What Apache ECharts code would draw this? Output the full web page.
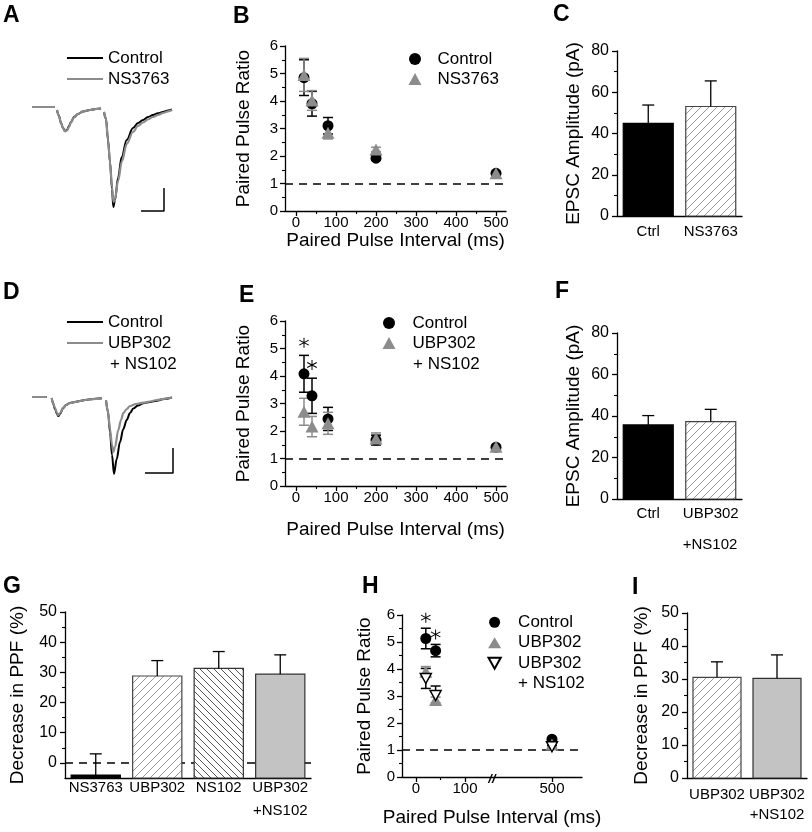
<!DOCTYPE html>
<html>
<head>
<meta charset="utf-8">
<script src="https://cdn.jsdelivr.net/npm/echarts@6/dist/echarts.min.js"></script>
<style>
  html, body { margin: 0; padding: 0; background: #fff; }
  #main { width: 812px; height: 832px; }
</style>
</head>
<body>
<div id="main"></div>
<script>
// ---------- data ----------
// A / D : example EPSC traces [time, current] (baseline = 0, '-' = blanked stimulus artifact)
var traceA_ctrl = [[2,0],[25,0],[26,'-'],[27,-3],[29,-9],[31,-16],[33,-21],[35,-24],[37,-23],[39,-19],[41,-15],[44,-10],[48,-7],[53,-4.5],[60,-3],[66,-2],[71,-1.5],[72.5,'-'],
  [74,-5],[76,-12],[78,-33],[80,-55],[82,-82],[83.3,-100],[85,-93],[88,-71],[91.7,-50],[96.7,-33],[103,-21],[108,-16],[113,-13],[118,-10],[123,-8],[128,-6.3],[133,-5],[138,-3.5],[142,-2.5]];
var traceA_drug = [[2,0],[25,0],[26,'-'],[27,-3],[29,-9],[31,-16],[33,-21],[35,-24.5],[37,-23.5],[39,-20],[41,-15.5],[44,-10.5],[48,-7],[53,-4.5],[60,-3],[66,-2],[71,-1.5],[72.5,'-'],
  [74,-5],[76,-12],[78,-33],[80,-55],[82,-80],[83.5,-95],[85,-92],[88,-74],[92,-54],[96.7,-37],[103,-25],[108,-19],[113,-15.5],[118,-12.5],[123,-10],[128,-8],[133,-6],[138,-4.3],[142,-3]];
var traceD_ctrl = [[2,0],[16.7,0],[18,'-'],[21.7,-1],[23,-6],[25,-12],[27,-17],[28.3,-19],[30,-17],[33.3,-11],[36,-8],[40,-6],[45,-5],[50,-4],[55,-3],[60,-2.3],[66,-1.8],[71.7,-1.3],[73,'-'],
  [76,-3],[78,-15],[80,-35],[82,-58],[84,-77],[86.7,-62],[90,-45],[93.3,-32],[96.7,-23],[100,-16],[103.3,-11.5],[108,-8.5],[113.3,-6.3],[120,-5],[126.7,-3.7],[134,-2],[142,-0.5]];
var traceD_drug = [[2,0],[16.7,0],[18,'-'],[21.7,-1],[23,-6],[25,-11],[27,-16],[28.3,-18],[30,-16],[33.3,-10.5],[36,-8],[40,-6],[45,-5],[50,-4],[55,-3],[60,-2.3],[66,-1.8],[71.7,-1.3],[73,'-'],
  [76,-3],[78,-15],[80,-32],[82,-48],[83.3,-55],[85,-50],[88.3,-33],[91,-23],[93.3,-16],[96.7,-12],[100,-9],[106,-7],[113.3,-5.7],[120,-4.5],[126.7,-3],[134,-1.8],[142,-0.5]];
var scaleA = [[111,-104],[134,-104],[134,-81]];
var scaleD = [[115,-76],[143,-76],[143,-51]];

// B / E : paired pulse ratio vs interval
var intervals = [20, 40, 80, 200, 500];
var B_ctrl = [4.85, 3.9, 3.1, 1.92, 1.37];
var B_ctrlErr = [0.65, 0.45, 0.3, 0.08, 0.06];
var B_ns = [4.95, 4.02, 2.85, 2.24, 1.37];
var B_nsErr = [0.6, 0.36, 0.23, 0.08, 0.06];
var E_ctrl = [4.08, 3.28, 2.44, 1.67, 1.41];
var E_ctrlErr = [0.67, 0.64, 0.42, 0.18, 0.06];
var E_ubp = [2.7, 2.16, 2.28, 1.73, 1.43];
var E_ubpErr = [0.49, 0.37, 0.4, 0.2, 0.06];
var E_stars = [[20, 5.21], [40, 4.4]];
var pprTicks = [0, 100, 200, 300, 400, 500];
var pprMinor = [50, 150, 250, 350, 450];

// C / F : EPSC amplitude
var C_cats = ['Ctrl', 'NS3763'];
var C_vals = [44.9, 53.1];
var C_errs = [8.9, 12.4];
var F_cats = ['Ctrl', 'UBP302'];
var F_vals = [35.7, 37.3];
var F_errs = [4.5, 5.9];

// G : decrease in PPF
var G_cats = ['NS3763', 'UBP302', 'NS102', 'UBP302\n+NS102'];
var G_vals = [-4, 28.8, 31.3, 29.4];
var G_errs = [7, 5.1, 5.6, 6.4];
var G_ticks = [0, 10, 20, 30, 40, 50];
var G_minor = [5, 15, 25, 35, 45];

// H : broken interval axis
var H_x = [20, 40, 500];
var H_ctrl = [5.13, 4.68, 1.4];
var H_ctrlErr = [0.38, 0.23, 0.05];
var H_ubp = [3.9, 2.85, 1.2];
var H_ubpErr = [0.19, 0.11, 0.05];
var H_both = [3.65, 3.02, 1.12];
var H_bothErr = [0.37, 0.35, 0.05];
var H_stars = [[20, 5.9], [40, 5.28]];

// I : decrease in PPF
var I_cats = ['UBP302', 'UBP302\n+NS102'];
var I_vals = [30.5, 30.2];
var I_errs = [4.7, 7.1];

// ---------- helpers ----------
var FONT = "'Liberation Sans', Arial, Helvetica, sans-serif";
var GRAY = '#8c8c8c';
var hBreak = 155, hShift = 222.5;          // H axis: values above the break are pulled left
function hx(v) { return v > hBreak ? v - hShift : v; }

function hatch(color, gap, dir) {
  var cv = document.createElement('canvas');
  cv.width = gap; cv.height = gap;
  var g = cv.getContext('2d');
  g.fillStyle = '#fff'; g.fillRect(0, 0, gap, gap);
  g.strokeStyle = color; g.lineWidth = 1;
  g.beginPath();
  for (var k = -1; k <= 1; k++) {
    if (dir > 0) { g.moveTo(k * gap, gap); g.lineTo(k * gap + gap, 0); }
    else { g.moveTo(k * gap, 0); g.lineTo(k * gap + gap, gap); }
  }
  g.stroke();
  return { image: cv, repeat: 'repeat' };
}
var ST_BLACK = { fill: '#000', stroke: '#000' };
var ST_UP = { fill: hatch('#9a9a9a', 8, 1), stroke: '#444' };
var ST_DOWN = { fill: hatch('#555', 7, -1), stroke: '#333' };
var ST_GRAY = { fill: '#c3c3c3', stroke: '#333' };

var axLine = { show: true, onZero: false, lineStyle: { color: '#000', width: 1.3 } };
function valueAxis(grid, o) {
  var ax = {
    type: 'value', gridIndex: grid, min: o.min, max: o.max,
    axisLine: axLine,
    axisTick: { show: true, length: 5, lineStyle: { color: '#000', width: 1.3 } },
    minorTick: { show: !!o.minor, splitNumber: 2, length: 3, lineStyle: { color: '#000', width: 1.1 } },
    axisLabel: { fontSize: o.fs || 15, color: '#000', margin: o.margin || 7, fontFamily: FONT },
    splitLine: { show: false },
    name: o.name || '', nameLocation: 'middle', nameGap: o.nameGap || 30,
    nameTextStyle: { fontSize: 19, color: '#000', fontFamily: FONT }
  };
  if (o.interval) ax.interval = o.interval;
  if (o.ticks) { ax.axisTick.customValues = o.ticks; ax.axisLabel.customValues = o.ticks; }
  if (o.formatter) ax.axisLabel.formatter = o.formatter;
  return ax;
}
function minorAxis(grid, min, max, vals, pos) {
  return {
    type: 'value', gridIndex: grid, min: min, max: max, position: pos,
    axisLine: { show: false }, axisLabel: { show: false }, splitLine: { show: false },
    axisTick: { show: true, length: 3, customValues: vals, lineStyle: { color: '#000', width: 1.1 } }
  };
}
function hiddenAxis(grid, min, max) {
  return { type: 'value', gridIndex: grid, min: min, max: max, show: false };
}
function catAxis(grid, cats, margin, lh) {
  return {
    type: 'category', gridIndex: grid, data: cats, boundaryGap: true,
    axisLine: axLine,
    axisTick: { alignWithLabel: true, length: 5, lineStyle: { color: '#000', width: 1.3 } },
    axisLabel: { fontSize: 15, color: '#000', margin: margin, lineHeight: lh || 18, interval: 0, fontFamily: FONT },
    splitLine: { show: false }
  };
}

function barSeries(xi, yi, vals, errs, styles, base, extra) {
  var s = {
    type: 'custom', xAxisIndex: xi, yAxisIndex: yi, z: 3, silent: true,
    data: vals.map(function (v, i) { return [i, v, errs[i]]; }),
    renderItem: function (params, api) {
      var i = api.value(0), v = api.value(1), e = api.value(2);
      var top = api.coord([i, v]), bot = api.coord([i, base]), cap = api.coord([i, v + e]);
      var w = api.size([1, 0])[0] * 0.8;
      var st = styles[params.dataIndex];
      var ln = { stroke: '#000', lineWidth: 1.3 };
      return { type: 'group', children: [
        { type: 'rect', shape: { x: top[0] - w / 2, y: top[1], width: w, height: bot[1] - top[1] },
          style: { fill: st.fill, stroke: st.stroke, lineWidth: 1.2 } },
        { type: 'line', shape: { x1: top[0], y1: top[1], x2: cap[0], y2: cap[1] }, style: ln },
        { type: 'line', shape: { x1: cap[0] - 6, y1: cap[1], x2: cap[0] + 6, y2: cap[1] }, style: ln }
      ] };
    }
  };
  if (extra) for (var k in extra) s[k] = extra[k];
  return s;
}
function errSeries(xi, yi, xs, ys, es, color) {
  return {
    type: 'custom', xAxisIndex: xi, yAxisIndex: yi, silent: true,
    data: xs.map(function (x, i) { return [x, ys[i], es[i]]; }),
    renderItem: function (params, api) {
      var x = api.value(0), y = api.value(1), e = api.value(2);
      var a = api.coord([x, y + e]), b = api.coord([x, y - e]);
      var st = { stroke: color, lineWidth: 1.5 };
      return { type: 'group', children: [
        { type: 'line', shape: { x1: a[0], y1: a[1], x2: b[0], y2: b[1] }, style: st },
        { type: 'line', shape: { x1: a[0] - 5, y1: a[1], x2: a[0] + 5, y2: a[1] }, style: st },
        { type: 'line', shape: { x1: b[0] - 5, y1: b[1], x2: b[0] + 5, y2: b[1] }, style: st }
      ] };
    }
  };
}
var CIRCLE = 'circle', TRI = 'triangle', INV_TRI = 'path://M0,0L10,0L5,9Z';
var STAR = 'path://M9.1,0L10.9,0L10.9,20L9.1,20Z M1.79,4.22L19.11,14.22L18.21,15.78L0.89,5.78Z M0.89,14.22L18.21,4.22L19.11,5.78L1.79,15.78Z';
function dotSeries(name, xi, yi, xs, ys, sym, size, style, extra) {
  style.opacity = 1;
  var s = {
    name: name, type: 'scatter', xAxisIndex: xi, yAxisIndex: yi, symbol: sym, symbolSize: size,
    data: xs.map(function (x, i) { return [x, ys[i]]; }), itemStyle: style, silent: true
  };
  if (extra) for (var k in extra) s[k] = extra[k];
  return s;
}
function dashAt(v) {
  return { silent: true, symbol: ['none', 'none'], z: 1, label: { show: false },
    lineStyle: { type: [8, 6], color: '#000', width: 1.5 }, data: [{ yAxis: v }] };
}
function traceSeries(name, xi, yi, data, color, w) {
  return { name: name, type: 'line', xAxisIndex: xi, yAxisIndex: yi, data: data, showSymbol: false,
    smooth: 0.35, smoothMonotone: 'x', connectNulls: false, silent: true,
    color: color, itemStyle: { color: color }, lineStyle: { color: color, width: w } };
}
function txt(s, x, y, size, bold, align) {
  return { type: 'text', x: x, y: y, silent: true,
    style: { text: s, fontSize: size, fontWeight: bold ? 'bold' : 'normal', fontFamily: FONT,
      fill: '#000', align: align || 'left', verticalAlign: 'middle' } };
}
function strip(n) { return n.split('|')[1]; }
function legendAt(left, top, names, o) {
  return {
    data: names, left: left, top: top, orient: 'vertical', padding: 0, itemGap: 0,
    itemWidth: o.w, itemHeight: o.h, icon: o.icon, selectedMode: false, formatter: strip,
    itemStyle: { opacity: 1 },
    textStyle: { fontSize: 17, lineHeight: o.lh, color: '#000', fontFamily: FONT, padding: [0, 0, 0, o.pad || 0] }
  };
}

// ---------- chart ----------
var myChart = echarts.init(document.getElementById('main'));
var option = {
  animation: false,
  backgroundColor: '#fff',
  textStyle: { fontFamily: FONT },
  grid: [
    { left: 30, top: 97, width: 160, height: 120 },     // A
    { left: 285, top: 46, width: 221, height: 165 },    // B
    { left: 617, top: 51, width: 125, height: 165 },    // C
    { left: 30, top: 387, width: 160, height: 120 },    // D
    { left: 285, top: 321, width: 221, height: 165 },   // E
    { left: 617, top: 333, width: 125, height: 166 },   // F
    { left: 65, top: 612, width: 246, height: 166 },    // G
    { left: 402, top: 615, width: 180, height: 162 },   // H
    { left: 687, top: 613, width: 120, height: 165 }    // I
  ],
  xAxis: [
    hiddenAxis(0, 0, 160),
    valueAxis(1, { min: -27.5, max: 525, ticks: pprTicks, margin: 4, name: 'Paired Pulse Interval (ms)', nameGap: 19 }),
    catAxis(2, C_cats, 7),
    hiddenAxis(3, 0, 160),
    valueAxis(4, { min: -27.5, max: 525, ticks: pprTicks, margin: 4, name: 'Paired Pulse Interval (ms)', nameGap: 34 }),
    catAxis(5, F_cats, 6),
    catAxis(6, G_cats, -2, 23),
    valueAxis(7, { min: -28.6, max: 338.8, ticks: [0, 100, hx(500)], margin: 4, name: 'Paired Pulse Interval (ms)', nameGap: 31,
      formatter: function (v) { return v > hBreak ? Math.round(v + hShift) : v; } }),
    catAxis(8, I_cats, 7, 20),
    minorAxis(1, -27.5, 525, pprMinor, 'bottom'),
    minorAxis(4, -27.5, 525, pprMinor, 'bottom'),
    minorAxis(7, -28.6, 338.8, [50], 'bottom')
  ],
  yAxis: [
    hiddenAxis(0, -110, 10),
    valueAxis(1, { min: 0, max: 6, interval: 1, minor: true, name: 'Paired Pulse Ratio', nameGap: 32 }),
    valueAxis(2, { min: 0, max: 80, interval: 20, minor: true, fs: 16, margin: 8, name: 'EPSC Amplitude (pA)', nameGap: 34 }),
    hiddenAxis(3, -110, 10),
    valueAxis(4, { min: 0, max: 6, interval: 1, minor: true, name: 'Paired Pulse Ratio', nameGap: 32 }),
    valueAxis(5, { min: 0, max: 80, interval: 20, minor: true, fs: 16, margin: 8, name: 'EPSC Amplitude (pA)', nameGap: 34 }),
    valueAxis(6, { min: -5, max: 50, ticks: G_ticks, fs: 16, margin: 8, name: 'Decrease in PPF (%)', nameGap: 38 }),
    valueAxis(7, { min: 0, max: 6, interval: 1, minor: true, name: 'Paired Pulse Ratio', nameGap: 28 }),
    valueAxis(8, { min: 0, max: 50, interval: 10, minor: true, fs: 16, margin: 8, name: 'Decrease in PPF (%)', nameGap: 36 }),
    minorAxis(6, -5, 50, G_minor, 'left')
  ],
  legend: [
    legendAt(67, 47.5, ['A|Control', 'A|NS3763'], { w: 36, h: 2, icon: 'rect', lh: 21 }),
    legendAt(408.5, 49, [{ name: 'B|Control', icon: CIRCLE }, { name: 'B|NS3763', icon: TRI }], { w: 13, h: 12, lh: 20, pad: 11 }),
    legendAt(67, 311.5, ['D|Control', 'D|UBP302'], { w: 36, h: 2, icon: 'rect', lh: 21 }),
    legendAt(382.5, 313, [{ name: 'E|Control', icon: CIRCLE }, { name: 'E|UBP302', icon: TRI }], { w: 13, h: 12, lh: 20, pad: 12 }),
    legendAt(487.5, 612, [{ name: 'H|Control', icon: CIRCLE }, { name: 'H|UBP302', icon: TRI }, { name: 'H|UBP302|b', icon: INV_TRI }], { w: 13, h: 11, lh: 20.5, pad: 12 })
  ],
  graphic: [
    txt('A', 3, 15.5, 23, true), txt('B', 233, 16.5, 23, true), txt('C', 553, 15, 23, true),
    txt('D', 3, 292.5, 23, true), txt('E', 239, 295.5, 23, true), txt('F', 555, 291.5, 23, true),
    txt('G', 3, 586.5, 23, true), txt('H', 362, 586.5, 23, true), txt('I', 632, 587.5, 23, true),
    txt('+ NS102', 110, 364, 17), txt('+ NS102', 413, 364, 17), txt('+ NS102', 518, 683, 17),
    txt('+NS102', 710, 545, 15, false, 'center')
  ],
  series: [
    // A
    traceSeries('A|Control', 0, 0, traceA_ctrl, '#000', 2),
    traceSeries('A|NS3763', 0, 0, traceA_drug, GRAY, 2.2),
    { type: 'line', xAxisIndex: 0, yAxisIndex: 0, data: scaleA, showSymbol: false, silent: true, lineStyle: { color: '#000', width: 1.5 } },
    // B
    errSeries(1, 1, intervals, B_ctrl, B_ctrlErr, '#000'),
    dotSeries('B|Control', 1, 1, intervals, B_ctrl, CIRCLE, 11, { color: '#000' }, { markLine: dashAt(1) }),
    errSeries(1, 1, intervals, B_ns, B_nsErr, GRAY),
    dotSeries('B|NS3763', 1, 1, intervals, B_ns, TRI, [13, 12], { color: GRAY }),
    // C
    barSeries(2, 2, C_vals, C_errs, [ST_BLACK, ST_UP], 0),
    // D
    traceSeries('D|Control', 3, 3, traceD_ctrl, '#000', 2),
    traceSeries('D|UBP302', 3, 3, traceD_drug, GRAY, 2.2),
    { type: 'line', xAxisIndex: 3, yAxisIndex: 3, data: scaleD, showSymbol: false, silent: true, lineStyle: { color: '#000', width: 1.5 } },
    // E
    errSeries(4, 4, intervals, E_ctrl, E_ctrlErr, '#000'),
    dotSeries('E|Control', 4, 4, intervals, E_ctrl, CIRCLE, 11, { color: '#000' }, { markLine: dashAt(1) }),
    errSeries(4, 4, intervals, E_ubp, E_ubpErr, GRAY),
    dotSeries('E|UBP302', 4, 4, intervals, E_ubp, TRI, [13, 12], { color: GRAY }),
    dotSeries('E|stars', 4, 4, E_stars.map(function (p) { return p[0]; }), E_stars.map(function (p) { return p[1]; }), STAR, 10, { color: '#000' }),
    // F
    barSeries(5, 5, F_vals, F_errs, [ST_BLACK, ST_UP], 0),
    // G
    barSeries(6, 6, G_vals, G_errs, [ST_BLACK, ST_UP, ST_DOWN, ST_GRAY], -5, { markLine: dashAt(0) }),
    // H
    errSeries(7, 7, H_x.map(hx), H_ctrl, H_ctrlErr, '#000'),
    dotSeries('H|Control', 7, 7, H_x.map(hx), H_ctrl, CIRCLE, 11, { color: '#000' }, { markLine: dashAt(1) }),
    errSeries(7, 7, H_x.map(hx), H_ubp, H_ubpErr, GRAY),
    dotSeries('H|UBP302', 7, 7, H_x.map(hx), H_ubp, TRI, [13, 12], { color: GRAY }),
    errSeries(7, 7, H_x.map(hx), H_both, H_bothErr, '#000'),
    dotSeries('H|UBP302|b', 7, 7, H_x.map(hx), H_both, INV_TRI, [11, 10], { color: '#fff', borderColor: '#000', borderWidth: 1.5 }),
    dotSeries('H|stars', 7, 7, H_stars.map(function (p) { return p[0]; }), H_stars.map(function (p) { return p[1]; }), STAR, 10, { color: '#000' }),
    { type: 'custom', xAxisIndex: 7, yAxisIndex: 7, silent: true, data: [[hBreak, 0]],
      renderItem: function (params, api) {
        var p = api.coord([api.value(0), api.value(1)]);
        return { type: 'text', x: p[0], y: p[1] + 2,
          style: { text: '//', fontSize: 13, fontStyle: 'italic', fontWeight: 'bold', fontFamily: FONT, fill: '#000', align: 'center', verticalAlign: 'middle' } };
      } },
    // I
    barSeries(8, 8, I_vals, I_errs, [ST_UP, ST_GRAY], 0)
  ]
};
myChart.setOption(option);
</script>
</body>
</html>
